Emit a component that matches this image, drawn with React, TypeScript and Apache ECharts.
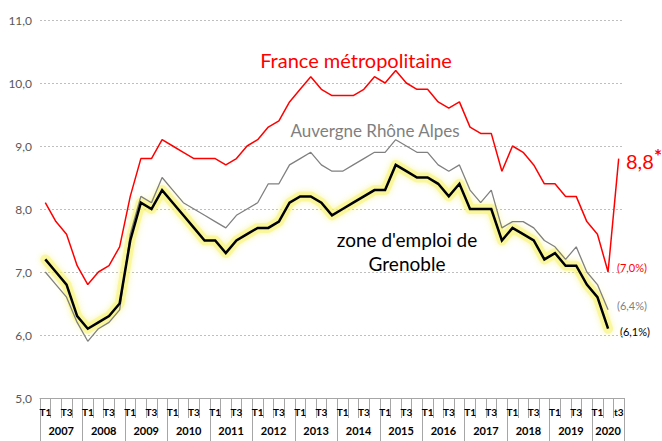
import React, { useEffect, useRef } from "react";
import * as echarts from "echarts";

const years = [2007, 2008, 2009, 2010, 2011, 2012, 2013, 2014, 2015, 2016, 2017, 2018, 2019, 2020];
const quarterNames = ["T1", "T2", "T3", "T4"];
const quarterTickLabels = ["T1", "", "T3", ""];
const quartersInLastYear = 3;

const france = [
  8.1, 7.8, 7.6, 7.1, 6.8, 7.0, 7.1, 7.4,
  8.2, 8.8, 8.8, 9.1, 9.0, 8.9, 8.8, 8.8,
  8.8, 8.7, 8.8, 9.0, 9.1, 9.3, 9.4, 9.7,
  9.9, 10.1, 9.9, 9.8, 9.8, 9.8, 9.9, 10.1,
  10.0, 10.2, 10.0, 9.9, 9.9, 9.7, 9.6, 9.7,
  9.3, 9.2, 9.2, 8.6, 9.0, 8.9, 8.7, 8.4,
  8.4, 8.2, 8.2, 7.8, 7.6, 7.0, 8.8,
];
const auvergne = [
  7.0, 6.8, 6.6, 6.2, 5.9, 6.1, 6.2, 6.4,
  7.6, 8.2, 8.1, 8.5, 8.3, 8.1, 8.0, 7.9,
  7.8, 7.7, 7.9, 8.0, 8.1, 8.4, 8.4, 8.7,
  8.8, 8.9, 8.7, 8.6, 8.6, 8.7, 8.8, 8.9,
  8.9, 9.1, 9.0, 8.9, 8.9, 8.7, 8.6, 8.7,
  8.3, 8.1, 8.3, 7.7, 7.8, 7.8, 7.7, 7.5,
  7.4, 7.2, 7.4, 7.0, 6.8, 6.4,
];
const grenoble = [
  7.2, 7.0, 6.8, 6.3, 6.1, 6.2, 6.3, 6.5,
  7.5, 8.1, 8.0, 8.3, 8.1, 7.9, 7.7, 7.5,
  7.5, 7.3, 7.5, 7.6, 7.7, 7.7, 7.8, 8.1,
  8.2, 8.2, 8.1, 7.9, 8.0, 8.1, 8.2, 8.3,
  8.3, 8.7, 8.6, 8.5, 8.5, 8.4, 8.2, 8.4,
  8.0, 8.0, 8.0, 7.5, 7.7, 7.6, 7.5, 7.2,
  7.3, 7.1, 7.1, 6.8, 6.6, 6.1,
];

const categories: string[] = [];
const categoryLabels: string[] = [];
years.forEach((y, yi) => {
  const n = yi === years.length - 1 ? quartersInLastYear : 4;
  for (let q = 0; q < n; q++) {
    categories.push(`${y} ${quarterNames[q]}`);
    categoryLabels.push(yi === years.length - 1 && q === 2 ? "t3" : quarterTickLabels[q]);
  }
});

const yearBounds: number[] = [];
const yearCenters: number[] = [];
{
  let start = 0;
  years.forEach((y, yi) => {
    const n = yi === years.length - 1 ? quartersInLastYear : 4;
    yearBounds.push(start);
    yearCenters.push(start + n / 2);
    start += n;
  });
  yearBounds.push(start);
}

const FONT = "Lato, 'Open Sans', sans-serif";

export default function App() {
  const ref = useRef<HTMLDivElement>(null);
  useEffect(() => {
    if (!ref.current) return;
    const chart = echarts.init(ref.current, null, { renderer: "svg" });
    const total = categories.length;
    chart.setOption({
      animation: false,
      textStyle: { fontFamily: FONT },
      grid: { left: 40, right: 38, top: 20, bottom: 43, containLabel: false },
      xAxis: [
        {
          type: "category",
          data: categories,
          boundaryGap: true,
          axisLine: { show: true, lineStyle: { color: "#a6a6a6", width: 1 } },
          axisTick: { show: true, interval: 0, length: 20, lineStyle: { color: "#a6a6a6" } },
          axisLabel: {
            interval: 0,
            margin: 9,
            fontSize: 10,
            fontWeight: "bold",
            color: "#000",
            fontFamily: FONT,
            formatter: (_v: string, i: number) => categoryLabels[i],
          },
          splitLine: { show: false },
        },
        {
          type: "value",
          position: "bottom",
          min: 0,
          max: total,
          axisLine: { show: false },
          splitLine: { show: false },
          axisTick: {
            show: true,
            length: 43,
            customValues: yearBounds,
            lineStyle: { color: "#a6a6a6" },
          },
          axisLabel: {
            show: true,
            margin: 27,
            fontSize: 11,
            fontWeight: "bold",
            color: "#000",
            fontFamily: FONT,
            customValues: yearCenters,
            formatter: (v: number) => {
              const idx = yearCenters.findIndex((c) => Math.abs(c - v) < 1e-6);
              return idx >= 0 ? String(years[idx]) : "";
            },
          },
        },
      ],
      yAxis: {
        type: "value",
        min: 5,
        max: 11,
        interval: 1,
        axisLine: { show: false },
        axisTick: { show: false },
        axisLabel: {
          margin: 8,
          fontSize: 12,
          color: "#595959",
          fontFamily: FONT,
          formatter: (v: number) => v.toFixed(1).replace(".", ","),
        },
        splitLine: { show: true, lineStyle: { color: "#bfbfbf", type: [2, 2], width: 1 } },
      },
      series: [
        {
          name: "glow",
          type: "line",
          data: grenoble,
          symbol: "none",
          silent: true,
          z: 1,
          lineStyle: {
            color: "rgba(248, 244, 120, 0.55)",
            width: 10,
            join: "round",
            cap: "round",
            shadowColor: "rgba(245, 240, 90, 0.9)",
            shadowBlur: 6,
          },
        },
        {
          name: "Auvergne Rhône Alpes",
          type: "line",
          data: auvergne,
          symbol: "none",
          z: 2,
          lineStyle: { color: "#808080", width: 1.3 },
        },
        {
          name: "France métropolitaine",
          type: "line",
          data: france,
          symbol: "none",
          z: 3,
          lineStyle: { color: "#ff0000", width: 1.5 },
        },
        {
          name: "zone d'emploi de Grenoble",
          type: "line",
          data: grenoble,
          symbol: "none",
          z: 4,
          lineStyle: { color: "#000000", width: 2.5, join: "miter" },
        },
      ],
      graphic: [
        { type: "text", x: 356, y: 60, style: { text: "France métropolitaine", fill: "#ff0000", font: `20px ${FONT}`, align: "center", verticalAlign: "middle" } },
        { type: "text", x: 375, y: 130, style: { text: "Auvergne Rhône Alpes", fill: "#7f7f7f", font: `17px ${FONT}`, align: "center", verticalAlign: "middle" } },
        { type: "text", x: 407, y: 239, style: { text: "zone d'emploi de", fill: "#000", font: `19px ${FONT}`, align: "center", verticalAlign: "middle" } },
        { type: "text", x: 407, y: 263, style: { text: "Grenoble", fill: "#000", font: `19px ${FONT}`, align: "center", verticalAlign: "middle" } },
        { type: "text", x: 626, y: 161, style: { text: "8,8", fill: "#ff0000", font: `20px ${FONT}`, verticalAlign: "middle" } },
        { type: "text", x: 654, y: 155, style: { text: "*", fill: "#ff0000", font: `bold 19px ${FONT}`, verticalAlign: "middle" } },
        { type: "text", x: 617, y: 267, style: { text: "(7,0%)", fill: "#ff0000", font: `11px ${FONT}`, verticalAlign: "middle" } },
        { type: "text", x: 617, y: 305, style: { text: "(6,4%)", fill: "#7f7f7f", font: `11px ${FONT}`, verticalAlign: "middle" } },
        { type: "text", x: 620, y: 331, style: { text: "(6,1%)", fill: "#000", font: `11px ${FONT}`, verticalAlign: "middle" } },
      ],
    });
    return () => chart.dispose();
  }, []);
  return <div ref={ref} style={{ width: 662, height: 441, position: "absolute", left: 0, top: 0 }} />;
}
